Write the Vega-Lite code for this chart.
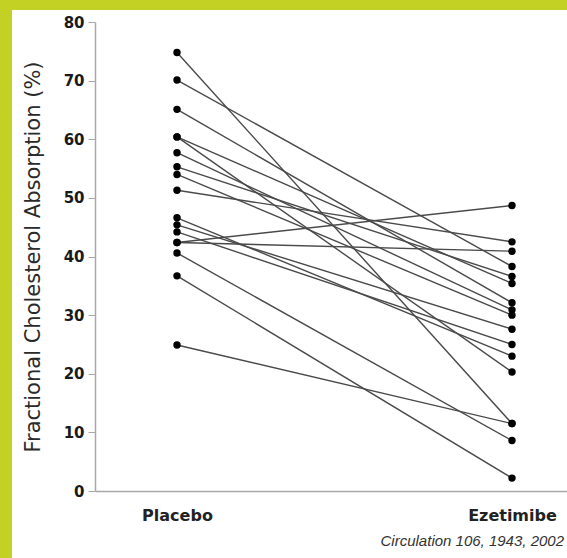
{
  "$schema": "https://vega.github.io/schema/vega-lite/v6.json",
  "width": 555,
  "height": 548,
  "autosize": "none",
  "padding": {"left": 12, "top": 10, "right": 0, "bottom": 0},
  "background": "#c2d124",
  "view": {"fill": "white", "stroke": null},
  "title": {
    "text": "Circulation 106, 1943, 2002",
    "orient": "bottom",
    "anchor": "end",
    "font": "Liberation Sans",
    "fontStyle": "italic",
    "fontWeight": "normal",
    "fontSize": 15,
    "color": "#333333",
    "offset": -24,
    "dx": -3
  },
  "data": {
    "values": [
      {"id": 1, "group": "Placebo", "value": 74.8}, {"id": 1, "group": "Ezetimibe", "value": 11.5},
      {"id": 2, "group": "Placebo", "value": 70.1}, {"id": 2, "group": "Ezetimibe", "value": 38.3},
      {"id": 3, "group": "Placebo", "value": 65.1}, {"id": 3, "group": "Ezetimibe", "value": 32.1},
      {"id": 4, "group": "Placebo", "value": 60.4}, {"id": 4, "group": "Ezetimibe", "value": 35.4},
      {"id": 5, "group": "Placebo", "value": 60.4}, {"id": 5, "group": "Ezetimibe", "value": 20.3},
      {"id": 6, "group": "Placebo", "value": 57.7}, {"id": 6, "group": "Ezetimibe", "value": 30.9},
      {"id": 7, "group": "Placebo", "value": 55.3}, {"id": 7, "group": "Ezetimibe", "value": 36.6},
      {"id": 8, "group": "Placebo", "value": 54.0}, {"id": 8, "group": "Ezetimibe", "value": 30.0},
      {"id": 9, "group": "Placebo", "value": 51.3}, {"id": 9, "group": "Ezetimibe", "value": 42.5},
      {"id": 10, "group": "Placebo", "value": 46.6}, {"id": 10, "group": "Ezetimibe", "value": 23.0},
      {"id": 11, "group": "Placebo", "value": 45.4}, {"id": 11, "group": "Ezetimibe", "value": 27.6},
      {"id": 12, "group": "Placebo", "value": 44.2}, {"id": 12, "group": "Ezetimibe", "value": 25.0},
      {"id": 13, "group": "Placebo", "value": 42.4}, {"id": 13, "group": "Ezetimibe", "value": 48.7},
      {"id": 14, "group": "Placebo", "value": 42.4}, {"id": 14, "group": "Ezetimibe", "value": 40.9},
      {"id": 15, "group": "Placebo", "value": 40.6}, {"id": 15, "group": "Ezetimibe", "value": 8.6},
      {"id": 16, "group": "Placebo", "value": 36.7}, {"id": 16, "group": "Ezetimibe", "value": 2.2},
      {"id": 17, "group": "Placebo", "value": 24.9}, {"id": 17, "group": "Ezetimibe", "value": 11.5}
    ]
  },
  "encoding": {
    "x": {
      "field": "group",
      "type": "nominal",
      "sort": ["Placebo", "Ezetimibe"],
      "scale": {"type": "point", "domain": ["Placebo", "Ezetimibe"], "range": [83, 555], "padding": 0.2045, "align": 0.5985},
      "axis": {
        "orient": "bottom",
        "offset": -67,
        "title": null,
        "ticks": false,
        "grid": false,
        "domainColor": "#a8a8a8",
        "domainWidth": 1.5,
        "labelAngle": 0,
        "labelFont": "DejaVu Sans",
        "labelFontWeight": "bold",
        "labelFontSize": 16,
        "labelColor": "#222222",
        "labelPadding": 16
      }
    },
    "y": {
      "field": "value",
      "type": "quantitative",
      "scale": {"domain": [0, 80], "range": [481, 12], "nice": false, "zero": false},
      "axis": {
        "orient": "left",
        "offset": -83,
        "values": [0, 10, 20, 30, 40, 50, 60, 70, 80],
        "grid": false,
        "domainColor": "#a8a8a8",
        "domainWidth": 1.5,
        "tickColor": "#a8a8a8",
        "tickSize": 7,
        "labelFont": "DejaVu Sans",
        "labelFontWeight": "bold",
        "labelFontSize": 15,
        "labelColor": "#1a1a1a",
        "labelPadding": 4,
        "title": "Fractional Cholesterol Absorption (%)",
        "titleFont": "DejaVu Sans",
        "titleFontWeight": "normal",
        "titleFontSize": 21,
        "titleColor": "#2a2a2a",
        "titlePadding": 20
      }
    }
  },
  "layer": [
    {
      "mark": {"type": "line", "color": "#4a4a4a", "strokeWidth": 1.4},
      "encoding": {"detail": {"field": "id", "type": "nominal"}}
    },
    {
      "mark": {"type": "circle", "color": "#000000", "opacity": 1, "size": 55}
    }
  ]
}
